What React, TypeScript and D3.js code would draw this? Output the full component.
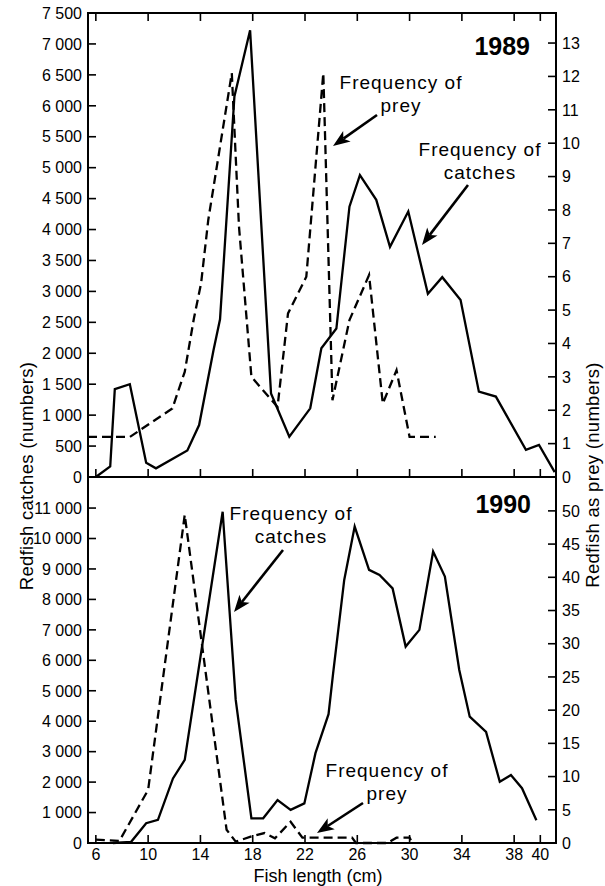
import React from "react";
import * as d3 from "d3";

// 1989 — catches (left axis) and prey (right axis)
const len89 = [6.0, 7.1, 7.45, 8.6, 9.85, 10.6, 13.0, 13.9, 15.0, 15.5, 16.6, 17.8, 19.4, 20.8, 22.4, 23.25, 24.4, 25.4, 26.2, 27.45, 28.5, 29.9, 31.4, 32.5, 33.9, 35.3, 36.6, 38.9, 39.9, 41.1];
const catch89 = [0, 170, 1420, 1500, 230, 140, 430, 840, 2050, 2550, 6150, 7220, 1350, 650, 1110, 2080, 2400, 4370, 4880, 4480, 3720, 4290, 2960, 3230, 2860, 1380, 1300, 440, 520, 80];

const lenPrey89 = [5.4, 8.6, 11.85, 12.8, 13.5, 14.05, 14.6, 16.4, 16.95, 17.9, 19.9, 20.7, 22.1, 23.4, 24.1, 25.4, 26.9, 27.95, 29.0, 30.0, 32.0];
const prey89 = [1.2, 1.2, 2.05, 3.15, 4.75, 5.8, 7.7, 12.1, 7.5, 3.0, 2.1, 4.9, 6.0, 12.1, 2.3, 4.7, 6.05, 2.2, 3.2, 1.2, 1.2];

// 1990
const len90 = [7.3, 8.7, 9.85, 10.75, 11.9, 12.8, 15.7, 16.7, 17.9, 18.8, 19.9, 20.9, 21.95, 22.8, 23.8, 24.15, 25.0, 25.8, 26.9, 27.7, 28.7, 29.7, 30.75, 31.8, 32.7, 33.8, 34.6, 35.85, 36.9, 37.75, 38.6, 39.7];
const catch90 = [0, 40, 650, 760, 2120, 2730, 10880, 4700, 810, 810, 1410, 1090, 1300, 2950, 4230, 5570, 8640, 10390, 8970, 8800, 8360, 6450, 7000, 9570, 8750, 5680, 4150, 3650, 2010, 2230, 1800, 750];

const lenPrey90 = [6.0, 7.8, 10.0, 12.8, 16.0, 16.7, 17.9, 18.9, 19.7, 20.9, 21.8, 25.6, 25.9, 28.3, 29.0, 30.0, 30.2];
const prey90 = [0.5, 0.3, 8.0, 49.4, 2.0, 0.2, 1.0, 1.5, 0.7, 3.2, 0.8, 0.8, 0, 0, 0.8, 0.8, 0];

const xTicks = [6, 10, 14, 18, 22, 26, 30, 34, 38, 40];
const yTicksTop = d3.range(0, 7501, 500);
const yTicksTopR = d3.range(0, 14, 1);
const yTicksBot = d3.range(0, 11001, 1000);
const yTicksBotR = d3.range(0, 51, 5);

const fmt = d3.formatLocale({ decimal: ".", thousands: " ", grouping: [3], currency: ["", ""] }).format(",");

const FONT = "'Liberation Sans', Arial, Helvetica, sans-serif";
const L = 88, R = 556, T = 13, M = 477, B = 843;
const TICK = 8;

const Arrow = ({ x1, y1, x2, y2 }: { x1: number; y1: number; x2: number; y2: number }) => {
  const dx = x2 - x1, dy = y2 - y1;
  const len = Math.hypot(dx, dy);
  const ux = dx / len, uy = dy / len;
  const px = -uy, py = ux;
  const hl = 17, hw = 6.5;
  const bx = x2 - ux * hl, by = y2 - uy * hl;
  const nx = x2 - ux * hl * 0.75, ny = y2 - uy * hl * 0.75;
  const pts = [
    [x2, y2],
    [bx + px * hw, by + py * hw],
    [nx, ny],
    [bx - px * hw, by - py * hw],
  ];
  return (
    <g>
      <line x1={x1} y1={y1} x2={nx} y2={ny} stroke="#000" strokeWidth={2.6} />
      <polygon points={pts.map((p) => p.join(",")).join(" ")} fill="#000" />
    </g>
  );
};

const Label = ({ x, y, lines }: { x: number; y: number; lines: string[] }) => (
  <text x={x} y={y} textAnchor="middle" fontFamily={FONT} fontSize={19} letterSpacing={1} fill="#000">
    {lines.map((l, i) => (
      <tspan key={i} x={x} dy={i === 0 ? 0 : 23}>
        {l}
      </tspan>
    ))}
  </text>
);

export default function App() {
  const x = d3.scaleLinear().domain([5.4, 41.2]).range([L, R]);
  const yTop = d3.scaleLinear().domain([0, 7500]).range([M, T]);
  const yTopR = d3.scaleLinear().domain([0, 13.9]).range([M, T]);
  const yBot = d3.scaleLinear().domain([0, 12020]).range([B, M]);
  const yBotR = d3.scaleLinear().domain([0, 55.1]).range([B, M]);

  const mk = (xs: number[], ys: number[], ys2: d3.ScaleLinear<number, number>) =>
    d3
      .line<number>()
      .x((_, i) => x(xs[i]))
      .y((d) => ys2(d))(ys) as string;

  const solidStyle = { fill: "none", stroke: "#000", strokeWidth: 2.3, strokeLinejoin: "miter" as const };
  const dashStyle = { ...solidStyle, strokeDasharray: "9,5" };

  return (
    <svg width={605} height={886} style={{ position: "absolute", left: 0, top: 0, background: "#fff" }}>
      <rect width={605} height={886} fill="#fff" />

      {/* frame */}
      <g stroke="#000" strokeWidth={2} fill="none">
        <rect x={L} y={T} width={R - L} height={B - T} />
        <line x1={L} x2={R} y1={M} y2={M} />
      </g>

      {/* x ticks */}
      <g stroke="#000" strokeWidth={1.6}>
        {xTicks.map((t) => (
          <g key={t}>
            <line x1={x(t)} x2={x(t)} y1={T} y2={T + TICK} />
            <line x1={x(t)} x2={x(t)} y1={M} y2={M - TICK} />
            <line x1={x(t)} x2={x(t)} y1={B} y2={B - TICK} />
          </g>
        ))}
      </g>
      <g fontFamily={FONT} fontSize={16} textAnchor="middle">
        {xTicks.map((t) => (
          <text key={t} x={x(t)} y={860}>
            {t}
          </text>
        ))}
      </g>

      {/* left y axes */}
      <g fontFamily={FONT} fontSize={16} textAnchor="end">
        {yTicksTop.map((t) => (
          <g key={"lt" + t}>
            <line x1={L} x2={L + TICK} y1={yTop(t)} y2={yTop(t)} stroke="#000" strokeWidth={1.6} />
            <text x={82} y={yTop(t)} dy="0.36em">
              {fmt(t)}
            </text>
          </g>
        ))}
        {yTicksBot.map((t) => (
          <g key={"lb" + t}>
            <line x1={L} x2={L + TICK} y1={yBot(t)} y2={yBot(t)} stroke="#000" strokeWidth={1.6} />
            <text x={82} y={yBot(t)} dy="0.36em">
              {fmt(t)}
            </text>
          </g>
        ))}
      </g>

      {/* right y axes */}
      <g fontFamily={FONT} fontSize={16} textAnchor="start">
        {yTicksTopR.map((t) => (
          <g key={"rt" + t}>
            <line x1={R} x2={R - TICK} y1={yTopR(t)} y2={yTopR(t)} stroke="#000" strokeWidth={1.6} />
            <text x={562} y={yTopR(t)} dy="0.36em">
              {t}
            </text>
          </g>
        ))}
        {yTicksBotR.map((t) => (
          <g key={"rb" + t}>
            <line x1={R} x2={R - TICK} y1={yBotR(t)} y2={yBotR(t)} stroke="#000" strokeWidth={1.6} />
            {t > 0 ? (
              <text x={562} y={yBotR(t)} dy="0.36em">
                {t}
              </text>
            ) : null}
          </g>
        ))}
        <text x={562} y={B} dy="0.36em">0</text>
      </g>

      {/* series */}
      <path d={mk(len89, catch89, yTop)} {...solidStyle} />
      <path d={mk(lenPrey89, prey89, yTopR)} {...dashStyle} />
      <path d={mk(len90, catch90, yBot)} {...solidStyle} />
      <path d={mk(lenPrey90, prey90, yBotR)} {...dashStyle} />

      {/* year labels */}
      <text x={530} y={55} textAnchor="end" fontFamily={FONT} fontWeight="bold" fontSize={25}>
        1989
      </text>
      <text x={531} y={513} textAnchor="end" fontFamily={FONT} fontWeight="bold" fontSize={25}>
        1990
      </text>

      {/* annotations */}
      <Label x={401} y={89} lines={["Frequency of", "prey"]} />
      <Arrow x1={377} y1={115} x2={333} y2={146} />
      <Label x={480} y={156} lines={["Frequency of", "catches"]} />
      <Arrow x1={468} y1={185} x2={422} y2={245} />
      <Label x={291} y={520} lines={["Frequency of", "catches"]} />
      <Arrow x1={283} y1={550} x2={234} y2={612} />
      <Label x={387} y={777} lines={["Frequency of", "prey"]} />
      <Arrow x1={363} y1={803} x2={317} y2={833} />

      {/* axis titles */}
      <text
        transform="translate(33,476) rotate(-90)"
        textAnchor="middle"
        fontFamily={FONT}
        fontSize={18.5}
        letterSpacing={0.3}
      >
        Redfish catches (numbers)
      </text>
      <text
        transform="translate(599,475) rotate(-90)"
        textAnchor="middle"
        fontFamily={FONT}
        fontSize={18.5}
        letterSpacing={0.3}
      >
        Redfish as prey (numbers)
      </text>
      <text x={318} y={882} textAnchor="middle" fontFamily={FONT} fontSize={18} >
        Fish length (cm)
      </text>
    </svg>
  );
}
